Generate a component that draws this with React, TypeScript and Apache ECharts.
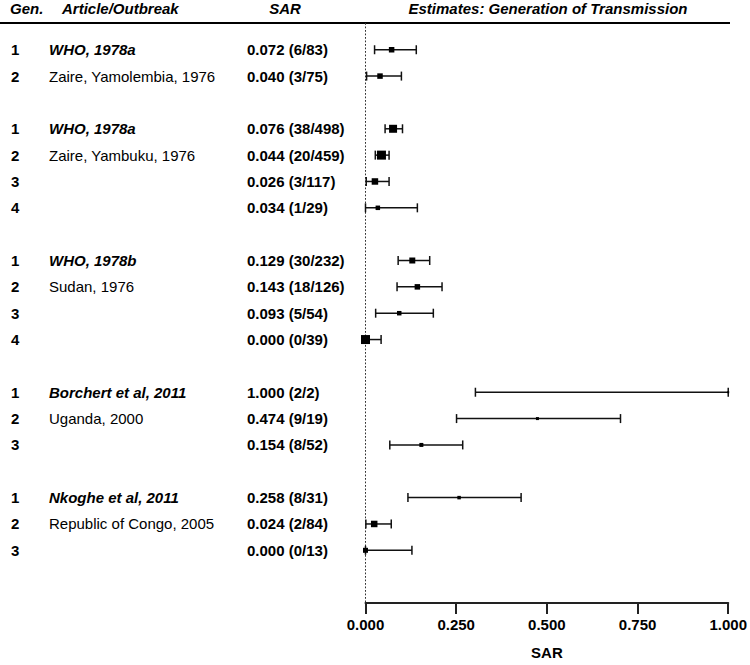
import React, { useEffect, useRef } from "react";
import * as echarts from "echarts";

const FONT = '"Liberation Sans", Arial, Helvetica, sans-serif';

// Row positions (blank rows separate the studies)
const rowIndex = [0, 1, 3, 4, 5, 6, 8, 9, 10, 11, 13, 14, 15, 17, 18, 19];
const gens = ["1", "2", "1", "2", "3", "4", "1", "2", "3", "4", "1", "2", "3", "1", "2", "3"];
const articles = [
  "WHO, 1978a", "Zaire, Yamolembia, 1976",
  "WHO, 1978a", "Zaire, Yambuku, 1976", "", "",
  "WHO, 1978b", "Sudan, 1976", "", "",
  "Borchert et al, 2011", "Uganda, 2000", "",
  "Nkoghe et al, 2011", "Republic of Congo, 2005", "",
];
const sarEst = [0.072, 0.040, 0.076, 0.044, 0.026, 0.034, 0.129, 0.143, 0.093, 0.000, 1.000, 0.474, 0.154, 0.258, 0.024, 0.000];
const sarCounts = ["6/83", "3/75", "38/498", "20/459", "3/117", "1/29", "30/232", "18/126", "5/54", "0/39", "2/2", "9/19", "8/52", "8/31", "2/84", "0/13"];
const ciLow = [0.025, 0.003, 0.054, 0.027, 0.002, 0.000, 0.090, 0.087, 0.028, 0.000, 0.303, 0.251, 0.067, 0.117, 0.001, 0.000];
const ciHigh = [0.140, 0.099, 0.102, 0.065, 0.065, 0.143, 0.177, 0.211, 0.187, 0.043, 1.000, 0.703, 0.268, 0.429, 0.071, 0.128];
const weights = [5.5, 5.5, 8, 9, 6.5, 4.5, 6, 5.5, 4.5, 9, 2, 3, 4, 3.5, 6.5, 5];
const xTicks = [0, 0.25, 0.5, 0.75, 1];

export default function App() {
  const ref = useRef<HTMLDivElement>(null);

  useEffect(() => {
    const chart = echarts.init(ref.current!, null, { renderer: "svg" });

    const textData = rowIndex.map((r, i) => [0, r, i]);
    const barData = rowIndex.map((r, i) => [ciLow[i], ciHigh[i], r]);
    const pointData = rowIndex.map((r, i) => [sarEst[i], r, weights[i]]);
    const FS = 15;

    chart.setOption({
      animation: false,
      textStyle: { fontFamily: FONT },
      grid: { left: 365.5, right: 20, top: 23.4, bottom: 665 - 608.6, containLabel: false },
      xAxis: {
        type: "value",
        min: 0,
        max: 1,
        interval: 0.25,
        name: "SAR",
        nameLocation: "middle",
        nameGap: 42,
        nameTextStyle: { fontFamily: FONT, fontWeight: "bold", fontSize: FS, color: "#000" },
        axisLine: { show: true, onZero: false, lineStyle: { color: "#222", width: 2 } },
        axisTick: { show: true, length: 11, lineStyle: { color: "#222", width: 2 } },
        axisLabel: {
          margin: 14,
          fontFamily: FONT,
          fontWeight: "bold",
          fontSize: FS,
          color: "#000",
          formatter: (v: number) => (xTicks.includes(v) ? v.toFixed(3) : ""),
        },
        splitLine: { show: false },
      },
      yAxis: {
        type: "value",
        min: -1,
        max: 21,
        inverse: true,
        axisLine: { show: true, onZero: false, lineStyle: { color: "#333", width: 1, type: [1, 2.5] } },
        axisTick: { show: false },
        axisLabel: { show: false },
        splitLine: { show: false },
      },
      graphic: [
        { type: "line", shape: { x1: 0, y1: 23, x2: 730, y2: 23 }, style: { stroke: "#000", lineWidth: 2 } },
        { type: "text", x: 10, y: 8, style: { text: "Gen.", font: `italic bold ${FS}px ${FONT}`, fill: "#000", verticalAlign: "middle", align: "left" } },
        { type: "text", x: 62, y: 8, style: { text: "Article/Outbreak", font: `italic bold ${FS}px ${FONT}`, fill: "#000", verticalAlign: "middle", align: "left" } },
        { type: "text", x: 285, y: 8, style: { text: "SAR", font: `italic bold ${FS}px ${FONT}`, fill: "#000", verticalAlign: "middle", align: "center" } },
        { type: "text", x: 548, y: 8, style: { text: "Estimates: Generation of Transmission", font: `italic bold ${FS}px ${FONT}`, fill: "#000", verticalAlign: "middle", align: "center" } },
      ],
      series: [
        {
          type: "custom",
          name: "labels",
          clip: false,
          silent: true,
          data: textData,
          encode: { x: 0, y: 1 },
          renderItem: (_params: any, api: any) => {
            const i = api.value(2);
            const y = api.coord([0, api.value(1)])[1];
            const isStudy = gens[i] === "1";
            return {
              type: "group",
              children: [
                { type: "text", style: { x: 11, y, text: gens[i], fontFamily: FONT, fontWeight: "bold", fontSize: FS, fill: "#000", verticalAlign: "middle", align: "left" } },
                { type: "text", style: { x: 49, y, text: articles[i], fontFamily: FONT, fontWeight: isStudy ? "bold" : "normal", fontStyle: isStudy ? "italic" : "normal", fontSize: FS, fill: "#000", verticalAlign: "middle", align: "left" } },
                { type: "text", style: { x: 247, y, text: `${sarEst[i].toFixed(3)} (${sarCounts[i]})`, fontFamily: FONT, fontWeight: "bold", fontSize: FS, fill: "#000", verticalAlign: "middle", align: "left" } },
              ],
            };
          },
          z: 5,
        },
        {
          type: "custom",
          name: "ci",
          clip: false,
          silent: true,
          data: barData,
          encode: { x: [0, 1], y: 2 },
          renderItem: (_params: any, api: any) => {
            const lo = api.coord([api.value(0), api.value(2)]);
            const hi = api.coord([api.value(1), api.value(2)]);
            const h = 4.5;
            const st = { stroke: "#111", lineWidth: 1.5 };
            return {
              type: "group",
              children: [
                { type: "line", shape: { x1: lo[0], y1: lo[1], x2: hi[0], y2: hi[1] }, style: st },
                { type: "line", shape: { x1: lo[0], y1: lo[1] - h, x2: lo[0], y2: lo[1] + h }, style: st },
                { type: "line", shape: { x1: hi[0], y1: hi[1] - h, x2: hi[0], y2: hi[1] + h }, style: st },
              ],
            };
          },
          z: 6,
        },
        {
          type: "scatter",
          name: "SAR",
          clip: false,
          silent: true,
          symbol: "rect",
          symbolSize: (v: number[]) => v[2],
          itemStyle: { color: "#000", opacity: 1 },
          data: pointData,
          z: 7,
        },
      ],
    });

    return () => chart.dispose();
  }, []);

  return <div ref={ref} style={{ position: "absolute", left: 0, top: 0, width: 750, height: 665 }} />;
}
